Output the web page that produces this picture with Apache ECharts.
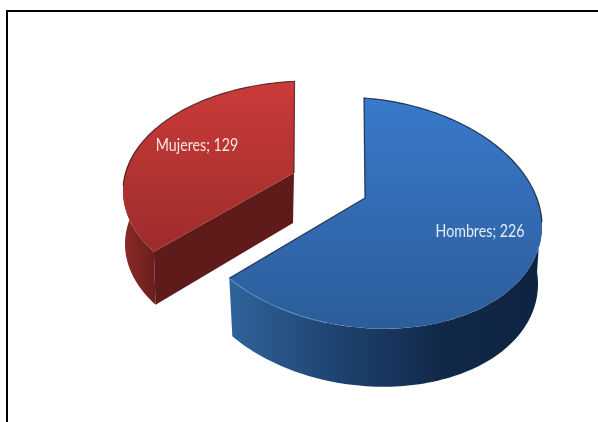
<!DOCTYPE html>
<html>
<head>
<meta charset="utf-8">
<style>html,body{margin:0;padding:0;background:#fff}#c{width:598px;height:422px}</style>
<script src="https://cdn.jsdelivr.net/npm/echarts@6/dist/echarts.min.js"></script>
</head>
<body>
<div id="c"></div>
<script>
const categories = ['Hombres', 'Mujeres'];
const values = [226, 129];

const total = values.reduce((a, b) => a + b, 0);
const rad = d => d * Math.PI / 180;

// Projection of each exploded slice (layout only)
const layouts = [
  { cx: 364, cy: 213, rx: 178, ry: 115, tilt: 13, phase: 0, scale: 1,
    depth: 58, shrink: 4, apex: [365, 198], apexDepth: 0,
    label: [480, 231], labelColor: '#e4edf7',
    topColors: ['#3979cb', '#2c5d9a'],
    sideColors: ['#30639c', '#1e4471', '#12294a', '#0e2340'],
    showInner: false, edgeTo: 88 },
  { cx: 309, cy: 191, rx: 186, ry: 110, tilt: 0, phase: -123.5, scale: 0.91,
    depth: 53, shrink: 2, apex: [294, 173], apexDepth: 50,
    label: [197, 145], labelColor: '#f5e4df',
    topColors: ['#cb3b39', '#9c2c2b'],
    sideColors: ['#8c2a28', '#7a2422', '#6a1f1d'],
    showInner: true, edgeFrom: 40 }
];

function renderSlice(params, api) {
  const i = params.dataIndex;
  const L = layouts[i];
  const sweep = api.value(0) / total * 360;

  const pt = (deg, d, shrink) => {
    const phi = rad(L.phase + deg * L.scale);
    return [
      L.cx + (L.rx - shrink) * Math.sin(phi),
      L.cy + d - L.ry * Math.cos(phi) + L.tilt * Math.sin(phi)
    ];
  };
  const arc = (a, b, d, shrink) => {
    const pts = [];
    const n = 90;
    for (let k = 0; k <= n; k++) pts.push(pt(a + (b - a) * k / n, d, shrink));
    return pts;
  };

  const top = arc(0, sweep, 0, 0);
  const children = [];
  const linear = (x, y, x2, y2, cols) => ({
    type: 'linear', x, y, x2, y2,
    colorStops: cols.map((c, k) => ({ offset: k / (cols.length - 1), color: c }))
  });

  // outer wall: the part of the rim that faces the viewer
  let wallA, wallB;
  if (i === 0) { wallA = 84; wallB = sweep; }
  else { wallA = 0; wallB = Math.min(sweep, 62); }
  const wallTop = arc(wallA, wallB, 0, 0);
  const wallBot = arc(wallB, wallA, L.depth, L.shrink);
  children.push({
    type: 'polygon',
    shape: { points: wallTop.concat(wallBot) },
    style: { fill: linear(0, 0, 1, 0, L.sideColors) }
  });

  // inner cut face
  if (L.showInner) {
    const a = pt(0, 0, 0), a2 = pt(0, L.depth, L.shrink);
    children.push({
      type: 'polygon',
      shape: { points: [a, L.apex, [L.apex[0] - 1, L.apex[1] + L.apexDepth], a2] },
      style: { fill: '#5f1b19' }
    });
  }

  // top face
  children.push({
    type: 'polygon',
    shape: { points: [L.apex].concat(top) },
    style: { fill: linear(0, 0, 0, 1, L.topColors) }
  });

  // thin dark edge along the back rim and the cuts
  const edgePts = i === 0
    ? [top[top.length - 1], L.apex, ...arc(0, L.edgeTo, 0, 0)]
    : [...arc(L.edgeFrom, sweep, 0, 0), L.apex];
  children.push({
    type: 'polyline',
    shape: { points: edgePts },
    style: { fill: 'none', stroke: i === 0 ? 'rgba(8,24,50,0.8)' : 'rgba(40,10,10,0.7)', lineWidth: 1.2 }
  });

  // soft light bevel on the front rim of the large slice
  if (i === 0) {
    children.push({
      type: 'polyline',
      shape: { points: arc(192, sweep, 0, 0) },
      style: { fill: 'none', stroke: 'rgba(110,160,215,0.35)', lineWidth: 1.5 }
    });
  }

  children.push({
    type: 'text',
    x: L.label[0], y: L.label[1],
    scaleX: 0.79,
    style: {
      text: categories[i] + '; ' + api.value(0),
      fill: L.labelColor,
      font: '18px Lato, "Open Sans", sans-serif',
      align: 'center', verticalAlign: 'middle'
    }
  });

  return { type: 'group', children };
}

const chart = echarts.init(document.getElementById('c'), null, { renderer: 'canvas' });
chart.setOption({
  animation: false,
  backgroundColor: '#fff',
  graphic: [
    { type: 'polyline', silent: true,
      shape: { points: [[7, 422], [7, 11], [598, 11]] },
      style: { fill: 'none', stroke: '#000', lineWidth: 2 } }
  ],
  series: [{
    type: 'custom',
    coordinateSystem: 'none',
    renderItem: renderSlice,
    data: values.map(v => [v]),
    silent: true
  }]
});
</script>
</body>
</html>
